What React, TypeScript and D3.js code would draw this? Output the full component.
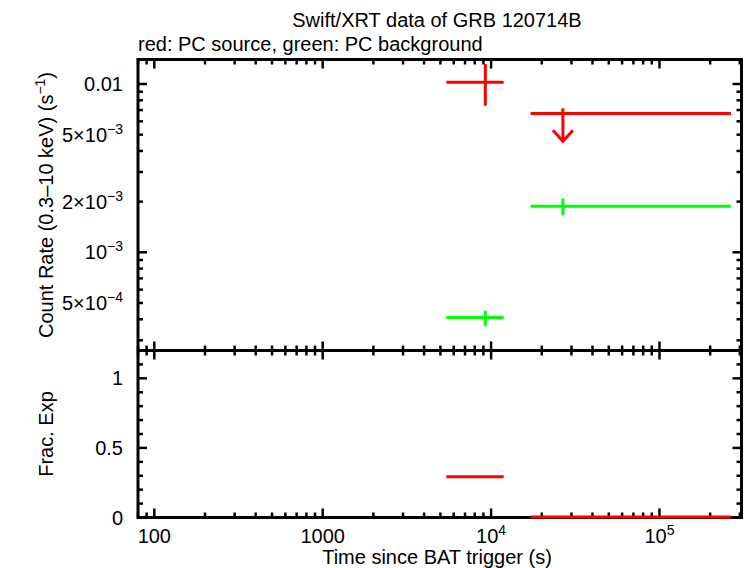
import React from "react";
import * as d3 from "d3";

const TITLE = "Swift/XRT data of GRB 120714B";
const SUBTITLE = "red: PC source, green: PC background";

// PC source detections (time bin centre / edges in s, rate and its bounds in counts/s)
const srcT = [9240];
const srcTLo = [5420];
const srcTHi = [11880];
const srcRate = [0.01023];
const srcRateLo = [0.00743];
const srcRateHi = [0.01315];

// PC source upper limits
const ulT = [26700];
const ulTLo = [17180];
const ulTHi = [265600];
const ulRate = [0.00669];

// PC background
const bgT = [9240, 26700];
const bgTLo = [5420, 17180];
const bgTHi = [11880, 265600];
const bgRate = [4.1e-4, 1.88e-3];
const bgRateLo = [3.65e-4, 1.66e-3];
const bgRateHi = [4.5e-4, 2.09e-3];

// fractional exposure of the source bins
const fracTLo = [5420, 17180];
const fracTHi = [11880, 265600];
const fracExp = [0.293, 0.004];

// tick labels
const timeTicks = [100, 1000, 1e4, 1e5];
const timeTickLabels: [string, string][] = [["100", ""], ["1000", ""], ["10", "4"], ["10", "5"]];
const rateTicks = [0.01, 5e-3, 2e-3, 1e-3, 5e-4];
const rateTickLabels: [string, string][] = [["0.01", ""], ["5×10", "−3"], ["2×10", "−3"], ["10", "−3"], ["5×10", "−4"]];
const fracTicks = [0, 0.5, 1];
const fracTickLabels = ["0", "0.5", "1"];

const W = 746;
const H = 568;
const left = 138;
const right = 741.5;
const top = 59.5;
const mid = 350.5;
const bottom = 517.5;

const RED = "#ff0000";
const GREEN = "#00ff00";
const FONT = "'Liberation Sans', Arial, Helvetica, sans-serif";
const FS = 20;

const x = d3.scaleLog().domain([80, 307000]).range([left, right]);
const yRate = d3.scaleLog().domain([0.01398, 2.61e-4]).range([top, mid]);
const yFrac = d3.scaleLinear().domain([0, 1.2]).range([bottom, mid]);

function logTicks(scale: d3.ScaleLogarithmic<number, number>) {
  const [a, b] = scale.domain().slice().sort((p, q) => p - q);
  const out: { v: number; major: boolean }[] = [];
  for (let e = Math.floor(Math.log10(a)); e <= Math.ceil(Math.log10(b)); e++) {
    for (let k = 1; k <= 9; k++) {
      const v = k * Math.pow(10, e);
      if (v >= a && v <= b) out.push({ v, major: k === 1 });
    }
  }
  return out;
}

const MAJ = 9;
const MIN = 5;

function Sup({ base, exp }: { base: string; exp: string }) {
  return (
    <>
      {base}
      {exp && (
        <tspan fontSize={FS * 0.7} dy={-8}>
          {exp}
        </tspan>
      )}
    </>
  );
}

export default function App() {
  React.useEffect(() => {
    document.body.style.margin = "0";
  }, []);

  const xt = logTicks(x);
  const yt = logTicks(yRate);
  const fracMinor = d3.range(0, 12).map((k) => k / 10);
  const ink = "#000";
  const tickW = 2.5;

  const xTickMarks = (yLine: number, dir: number, key: string) =>
    xt.map((t, i) => (
      <line
        key={key + i}
        x1={x(t.v)}
        x2={x(t.v)}
        y1={yLine}
        y2={yLine + dir * (t.major ? MAJ : MIN)}
        stroke={ink}
        strokeWidth={tickW}
      />
    ));

  return (
    <svg
      width={W}
      height={H}
      style={{ position: "absolute", left: 0, top: 0, background: "#fff" }}
      fontFamily={FONT}
      fontSize={FS}
    >
      <rect width={W} height={H} fill="#fff" />
      <text x={437} y={27} textAnchor="middle">
        {TITLE}
      </text>
      <text x={left} y={51}>
        {SUBTITLE}
      </text>

      {/* tick marks */}
      {xTickMarks(top, 1, "tt")}
      {xTickMarks(mid, -1, "mt")}
      {xTickMarks(mid, 1, "mb")}
      {xTickMarks(bottom, -1, "bb")}
      {yt.map((t, i) => (
        <g key={"yr" + i}>
          <line x1={left} x2={left + (t.major ? MAJ : MIN)} y1={yRate(t.v)} y2={yRate(t.v)} stroke={ink} strokeWidth={tickW} />
          <line x1={right} x2={right - (t.major ? MAJ : MIN)} y1={yRate(t.v)} y2={yRate(t.v)} stroke={ink} strokeWidth={tickW} />
        </g>
      ))}
      {fracMinor.map((v, i) => {
        const major = i % 5 === 0;
        return (
          <g key={"yf" + i}>
            <line x1={left} x2={left + (major ? MAJ : MIN)} y1={yFrac(v)} y2={yFrac(v)} stroke={ink} strokeWidth={tickW} />
            <line x1={right} x2={right - (major ? MAJ : MIN)} y1={yFrac(v)} y2={yFrac(v)} stroke={ink} strokeWidth={tickW} />
          </g>
        );
      })}

      {/* frames */}
      <rect x={left} y={top} width={right - left} height={bottom - top} fill="none" stroke={ink} strokeWidth={3} />
      <line x1={left} x2={right} y1={mid} y2={mid} stroke={ink} strokeWidth={3} />

      {/* tick labels */}
      {timeTicks.map((v, i) => (
        <text key={"xl" + i} x={x(v)} y={543} textAnchor="middle">
          <Sup base={timeTickLabels[i][0]} exp={timeTickLabels[i][1]} />
        </text>
      ))}
      {rateTicks.map((v, i) => (
        <text key={"rl" + i} x={123} y={yRate(v) + 7} textAnchor="end">
          <Sup base={rateTickLabels[i][0]} exp={rateTickLabels[i][1]} />
        </text>
      ))}
      {fracTicks.map((v, i) => (
        <text key={"fl" + i} x={123} y={yFrac(v) + 7} textAnchor="end">
          {fracTickLabels[i]}
        </text>
      ))}

      {/* axis titles */}
      <text x={437} y={564} textAnchor="middle">
        Time since BAT trigger (s)
      </text>
      <text transform={`translate(53,${(top + mid) / 2}) rotate(-90)`} textAnchor="middle">
        Count Rate (0.3–10 keV) (s
        <tspan fontSize={FS * 0.7} dy={-8}>
          −1
        </tspan>
        <tspan dy={8}>)</tspan>
      </text>
      <text transform={`translate(53,${(mid + bottom) / 2}) rotate(-90)`} textAnchor="middle">
        Frac. Exp
      </text>

      {/* data */}
      <g strokeWidth={3} fill="none">
        {bgT.map((t, i) => (
          <g key={"bg" + i} stroke={GREEN}>
            <line x1={x(bgTLo[i])} x2={x(bgTHi[i])} y1={yRate(bgRate[i])} y2={yRate(bgRate[i])} />
            <line x1={x(t)} x2={x(t)} y1={yRate(bgRateLo[i])} y2={yRate(bgRateHi[i])} />
          </g>
        ))}
        {srcT.map((t, i) => (
          <g key={"src" + i} stroke={RED}>
            <line x1={x(srcTLo[i])} x2={x(srcTHi[i])} y1={yRate(srcRate[i])} y2={yRate(srcRate[i])} />
            <line x1={x(t)} x2={x(t)} y1={yRate(srcRateLo[i])} y2={yRate(srcRateHi[i])} />
          </g>
        ))}
        {ulT.map((t, i) => {
          const y0 = yRate(ulRate[i]);
          const y1 = yRate(ulRate[i] * 0.682);
          const xc = x(t);
          return (
            <g key={"ul" + i} stroke={RED}>
              <line x1={x(ulTLo[i])} x2={x(ulTHi[i])} y1={y0} y2={y0} />
              <line x1={xc} x2={xc} y1={y0 - 5} y2={y1} />
              <polyline points={`${xc - 10},${y1 - 11} ${xc},${y1} ${xc + 10},${y1 - 11}`} />
            </g>
          );
        })}
        {fracExp.map((f, i) => (
          <line key={"fe" + i} stroke={RED} x1={x(fracTLo[i])} x2={x(fracTHi[i])} y1={yFrac(f)} y2={yFrac(f)} />
        ))}
      </g>
    </svg>
  );
}
